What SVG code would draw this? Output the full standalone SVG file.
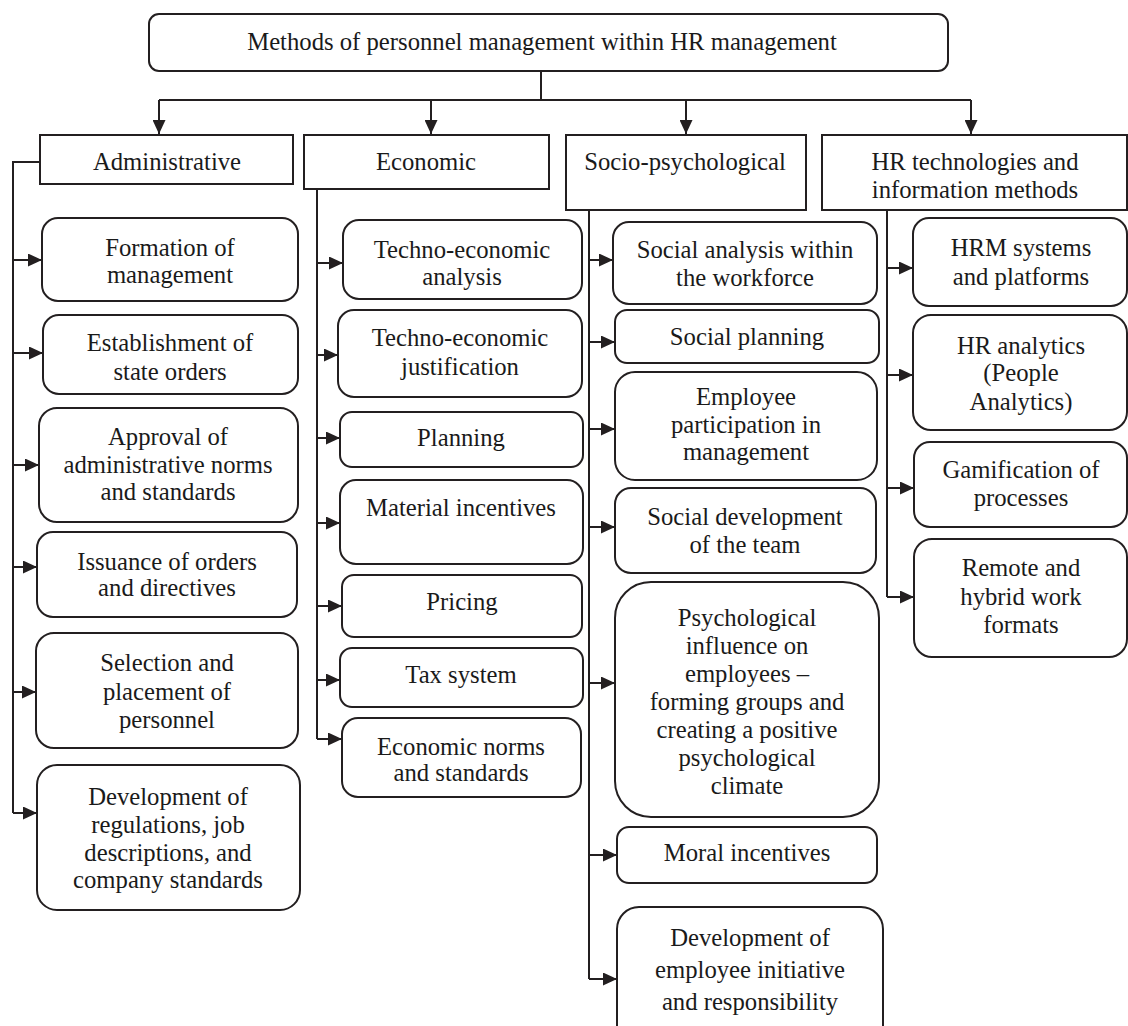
<svg xmlns="http://www.w3.org/2000/svg" width="1128" height="1026" viewBox="0 0 1128 1026">
<style>
.box{fill:#fff;stroke:#231f20;stroke-width:2}
.t{font-family:"Liberation Serif","Times New Roman",serif;font-size:24.7px;fill:#1a1a1a;text-anchor:middle}
.c{fill:none;stroke:#231f20;stroke-width:2}
</style>
<defs>
<marker id="ah" markerUnits="userSpaceOnUse" markerWidth="14" markerHeight="13" viewBox="0 0 14 13" refX="14" refY="6.5" orient="auto">
<path d="M0,0 L14,6.5 L0,13 z" fill="#231f20"/>
</marker>
</defs>
<rect width="1128" height="1026" fill="#fff"/>
<g id="connectors">
<path class="c" d="M541,71 V100 M159,100 H971"/>
<path class="c" marker-end="url(#ah)" d="M159,100 V134"/>
<path class="c" marker-end="url(#ah)" d="M431,100 V134"/>
<path class="c" marker-end="url(#ah)" d="M686,100 V134"/>
<path class="c" marker-end="url(#ah)" d="M971,100 V134"/>
<path class="c" d="M40,162 H13 V813"/>
<path class="c" marker-end="url(#ah)" d="M13,260 H42"/>
<path class="c" marker-end="url(#ah)" d="M13,353 H43"/>
<path class="c" marker-end="url(#ah)" d="M13,465 H39"/>
<path class="c" marker-end="url(#ah)" d="M13,567 H37"/>
<path class="c" marker-end="url(#ah)" d="M13,692 H36"/>
<path class="c" marker-end="url(#ah)" d="M13,813 H37"/>
<path class="c" d="M317,189 V739"/>
<path class="c" marker-end="url(#ah)" d="M317,263 H343"/>
<path class="c" marker-end="url(#ah)" d="M317,355 H338"/>
<path class="c" marker-end="url(#ah)" d="M317,438 H340"/>
<path class="c" marker-end="url(#ah)" d="M317,523 H340"/>
<path class="c" marker-end="url(#ah)" d="M317,606 H342"/>
<path class="c" marker-end="url(#ah)" d="M317,680 H340"/>
<path class="c" marker-end="url(#ah)" d="M317,739 H342"/>
<path class="c" d="M589,210 V979"/>
<path class="c" marker-end="url(#ah)" d="M589,260 H613"/>
<path class="c" marker-end="url(#ah)" d="M589,342 H615"/>
<path class="c" marker-end="url(#ah)" d="M589,429 H615"/>
<path class="c" marker-end="url(#ah)" d="M589,527 H615"/>
<path class="c" marker-end="url(#ah)" d="M589,683 H615"/>
<path class="c" marker-end="url(#ah)" d="M589,855 H617"/>
<path class="c" marker-end="url(#ah)" d="M589,979 H617"/>
<path class="c" d="M887,210 V597"/>
<path class="c" marker-end="url(#ah)" d="M887,268 H913"/>
<path class="c" marker-end="url(#ah)" d="M887,375 H913"/>
<path class="c" marker-end="url(#ah)" d="M887,488 H914"/>
<path class="c" marker-end="url(#ah)" d="M887,597 H914"/>
</g>
<g id="root"><rect class="box" x="149" y="14" width="799" height="57" rx="10"/><text class="t" x="542" y="50">Methods of personnel management within HR management</text></g>
<g id="h-admin"><rect class="box" x="40" y="135" width="253" height="49"/><text class="t" x="167" y="170">Administrative</text></g>
<g id="h-econ"><rect class="box" x="304" y="135" width="245" height="54"/><text class="t" x="426" y="170">Economic</text></g>
<g id="h-socio"><rect class="box" x="566" y="135" width="240" height="75"/><text class="t" x="685" y="170">Socio-psychological</text></g>
<g id="h-hr"><rect class="box" x="822" y="135" width="305" height="75"/><text class="t" x="975" y="170">HR technologies and</text><text class="t" x="975" y="198">information methods</text></g>
<g id="a1"><rect class="box" x="42" y="218" width="256" height="83" rx="16"/><text class="t" x="170" y="256">Formation of</text><text class="t" x="170" y="283">management</text></g>
<g id="a2"><rect class="box" x="43" y="315" width="255" height="79" rx="16"/><text class="t" x="170" y="351">Establishment of</text><text class="t" x="170" y="380">state orders</text></g>
<g id="a3"><rect class="box" x="39" y="408" width="259" height="114" rx="18"/><text class="t" x="168" y="445">Approval of</text><text class="t" x="168" y="473">administrative norms</text><text class="t" x="168" y="500">and standards</text></g>
<g id="a4"><rect class="box" x="37" y="532" width="260" height="85" rx="16"/><text class="t" x="167" y="570">Issuance of orders</text><text class="t" x="167" y="596">and directives</text></g>
<g id="a5"><rect class="box" x="36" y="633" width="262" height="115" rx="18"/><text class="t" x="167" y="671">Selection and</text><text class="t" x="167" y="700">placement of</text><text class="t" x="167" y="728">personnel</text></g>
<g id="a6"><rect class="box" x="37" y="765" width="263" height="145" rx="20"/><text class="t" x="168" y="805">Development of</text><text class="t" x="168" y="833">regulations, job</text><text class="t" x="168" y="861">descriptions, and</text><text class="t" x="168" y="888">company standards</text></g>
<g id="e1"><rect class="box" x="343" y="220" width="239" height="79" rx="16"/><text class="t" x="462" y="258">Techno-economic</text><text class="t" x="462" y="285">analysis</text></g>
<g id="e2"><rect class="box" x="338" y="310" width="244" height="87" rx="16"/><text class="t" x="460" y="346">Techno-economic</text><text class="t" x="460" y="375">justification</text></g>
<g id="e3"><rect class="box" x="340" y="412" width="243" height="55" rx="12"/><text class="t" x="461" y="446">Planning</text></g>
<g id="e4"><rect class="box" x="340" y="480" width="243" height="84" rx="16"/><text class="t" x="461" y="516">Material incentives</text></g>
<g id="e5"><rect class="box" x="342" y="575" width="240" height="62" rx="12"/><text class="t" x="462" y="610">Pricing</text></g>
<g id="e6"><rect class="box" x="340" y="648" width="243" height="59" rx="12"/><text class="t" x="461" y="683">Tax system</text></g>
<g id="e7"><rect class="box" x="342" y="718" width="239" height="79" rx="16"/><text class="t" x="461" y="755">Economic norms</text><text class="t" x="461" y="781">and standards</text></g>
<g id="s1"><rect class="box" x="613" y="222" width="264" height="82" rx="16"/><text class="t" x="745" y="258">Social analysis within</text><text class="t" x="745" y="286">the workforce</text></g>
<g id="s2"><rect class="box" x="615" y="310" width="264" height="53" rx="12"/><text class="t" x="747" y="345">Social planning</text></g>
<g id="s3"><rect class="box" x="615" y="372" width="262" height="108" rx="20"/><text class="t" x="746" y="405">Employee</text><text class="t" x="746" y="433">participation in</text><text class="t" x="746" y="460">management</text></g>
<g id="s4"><rect class="box" x="615" y="488" width="261" height="85" rx="16"/><text class="t" x="745" y="525">Social development</text><text class="t" x="745" y="553">of the team</text></g>
<g id="s5"><rect class="box" x="615" y="582" width="264" height="235" rx="36"/><text class="t" x="747" y="626">Psychological</text><text class="t" x="747" y="654">influence on</text><text class="t" x="747" y="682">employees –</text><text class="t" x="747" y="710">forming groups and</text><text class="t" x="747" y="738">creating a positive</text><text class="t" x="747" y="766">psychological</text><text class="t" x="747" y="794">climate</text></g>
<g id="s6"><rect class="box" x="617" y="827" width="260" height="56" rx="12"/><text class="t" x="747" y="861">Moral incentives</text></g>
<g id="s7"><rect class="box" x="617" y="907" width="266" height="140" rx="22"/><text class="t" x="750" y="946">Development of</text><text class="t" x="750" y="978">employee initiative</text><text class="t" x="750" y="1010">and responsibility</text></g>
<g id="r1"><rect class="box" x="913" y="218" width="214" height="88" rx="16"/><text class="t" x="1021" y="256">HRM systems</text><text class="t" x="1021" y="285">and platforms</text></g>
<g id="r2"><rect class="box" x="913" y="315" width="214" height="115" rx="18"/><text class="t" x="1021" y="354">HR analytics</text><text class="t" x="1021" y="381">(People</text><text class="t" x="1021" y="410">Analytics)</text></g>
<g id="r3"><rect class="box" x="914" y="442" width="213" height="85" rx="16"/><text class="t" x="1021" y="478">Gamification of</text><text class="t" x="1021" y="506">processes</text></g>
<g id="r4"><rect class="box" x="914" y="539" width="213" height="118" rx="18"/><text class="t" x="1021" y="576">Remote and</text><text class="t" x="1021" y="605">hybrid work</text><text class="t" x="1021" y="633">formats</text></g>
</svg>
